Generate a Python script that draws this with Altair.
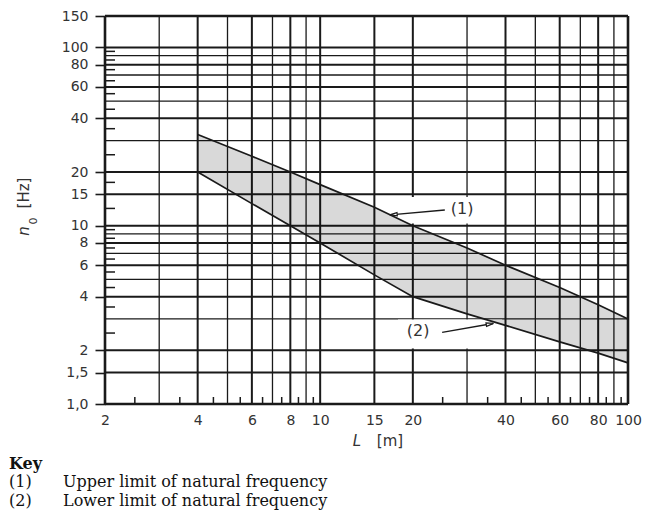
import altair as alt
import pandas as pd

# ---- data ----
L_pts = [4, 6, 8, 10, 15, 20, 30, 40, 60, 80, 100]
n_upper = [32.5, 24.5, 20, 17, 12.7, 10, 7.5, 6, 4.5, 3.6, 3.0]
n_lower = [20, 13.3, 10, 8, 5.3, 4, 3.2, 2.76, 2.23, 1.93, 1.70]

x_labels = [2, 4, 6, 8, 10, 15, 20, 40, 60, 80, 100]
y_labels = [1, 1.5, 2, 4, 6, 8, 10, 15, 20, 40, 60, 80, 100, 150]

vert_major = [4, 6, 8, 10, 15, 20, 40, 60, 80]
vert_minor = [3, 5, 7, 9, 30, 50, 70, 90]
horiz_major = [1.5, 2, 4, 6, 8, 10, 15, 20, 40, 60, 80, 100]
horiz_minor = [3, 5, 7, 9, 30, 50, 70, 90]
x_border = [2, 100]
y_border = [1, 150]

x_minor_ticks = [2.5, 3.5, 4.5, 5.5, 6.5, 7.5, 8.5, 9.5, 25, 35, 45, 55, 65, 75, 85, 95]
y_minor_ticks = [2.5, 3.5, 4.5, 5.5, 6.5, 7.5, 8.5, 9.5, 12.5, 17.5, 25, 35, 45, 55, 65, 75, 85, 95]

ann_labels = ["(1)", "(2)"]
ann_L = [28.9, 20.8]
ann_n = [12.4, 2.56]

arrow_id = ["a1", "a1", "a2", "a2"]
arrow_L = [25.4, 16.9, 24.9, 36.4]
arrow_n = [12.25, 11.5, 2.52, 2.83]
head_L = [17.3, 35.6]
head_n = [11.55, 2.81]
head_angle = [265, 80]

box_L1 = [17.5, 17.9]
box_L2 = [37.5, 39]
box_n1 = [10.3, 2.05]
box_n2 = [14.5, 2.98]

key_title = "Key"
key_nums = ["(1)", "(2)"]
key_texts = ["Upper limit of natural frequency", "Lower limit of natural frequency"]

# ---- scales & axes ----
xs = alt.Scale(type="log", domain=[2, 100], nice=False, zero=False)
ys = alt.Scale(type="log", domain=[1, 150], nice=False, zero=False)

LINE = "#1a1a1a"
TXT = "#333333"

x_axis = alt.Axis(values=x_labels, format="d", grid=False, ticks=False, domain=False,
                  labelFont="DejaVu Sans", labelFontSize=14, labelColor=TXT,
                  labelPadding=9, labelOverlap=False, labelFlush=False, labelBound=False, title=None)
y_axis = alt.Axis(values=y_labels,
                  labelExpr="datum.value == 1 ? '1,0' : datum.value == 1.5 ? '1,5' : format(datum.value, 'd')",
                  grid=False, ticks=True, tickSize=10, tickWidth=1.6, tickColor=LINE, domain=False,
                  labelFont="DejaVu Sans", labelFontSize=14, labelColor=TXT,
                  labelPadding=7, labelOverlap=False, labelFlush=False, labelBound=False, title=None)


def X(f):
    return alt.X(f, scale=xs, axis=x_axis, title=None)


def Y(f):
    return alt.Y(f, scale=ys, axis=y_axis, title=None)


curves = pd.DataFrame({"L": L_pts, "up": n_upper, "lo": n_lower})

vmaj = alt.Chart(pd.DataFrame({"v": vert_major})).mark_rule(color=LINE, strokeWidth=2).encode(x=X("v:Q"))
vmin = alt.Chart(pd.DataFrame({"v": vert_minor})).mark_rule(color=LINE, strokeWidth=1.3).encode(x=X("v:Q"))
hmaj = alt.Chart(pd.DataFrame({"h": horiz_major})).mark_rule(color=LINE, strokeWidth=2).encode(y=Y("h:Q"))
hmin = alt.Chart(pd.DataFrame({"h": horiz_minor})).mark_rule(color=LINE, strokeWidth=1.3).encode(y=Y("h:Q"))

boxes = alt.Chart(pd.DataFrame({"x1": box_L1, "x2": box_L2, "y1": box_n1, "y2": box_n2})).mark_rect(
    color="white").encode(x=X("x1:Q"), x2="x2:Q", y=Y("y1:Q"), y2="y2:Q")

area = alt.Chart(curves).mark_area(fill="black", fillOpacity=0.15).encode(
    x=X("L:Q"), y=Y("lo:Q"), y2="up:Q")

up_line = alt.Chart(curves).mark_line(color=LINE, strokeWidth=1.7).encode(x=X("L:Q"), y=Y("up:Q"))
lo_line = alt.Chart(curves).mark_line(color=LINE, strokeWidth=1.7).encode(x=X("L:Q"), y=Y("lo:Q"))

xb = alt.Chart(pd.DataFrame({"v": x_border})).mark_rule(color=LINE, strokeWidth=2.6).encode(x=X("v:Q"))
yb = alt.Chart(pd.DataFrame({"h": y_border})).mark_rule(color=LINE, strokeWidth=2.6).encode(y=Y("h:Q"))

PH = 388  # plot height in px

xt = alt.Chart(pd.DataFrame({"v": x_minor_ticks})).mark_rule(color=LINE, strokeWidth=1.5).encode(
    x=X("v:Q"), y=alt.value(PH), y2=alt.value(PH - 7))
yt = alt.Chart(pd.DataFrame({"h": y_minor_ticks})).mark_rule(color=LINE, strokeWidth=1.5).encode(
    y=Y("h:Q"), x=alt.value(0), x2=alt.value(10))

ann = alt.Chart(pd.DataFrame({"L": ann_L, "n": ann_n, "t": ann_labels})).mark_text(
    font="DejaVu Sans", fontSize=16, color=TXT).encode(x=X("L:Q"), y=Y("n:Q"), text="t:N")

arrows = alt.Chart(pd.DataFrame({"id": arrow_id, "L": arrow_L, "n": arrow_n})).mark_line(
    color=LINE, strokeWidth=1.4).encode(x=X("L:Q"), y=Y("n:Q"), detail="id:N")

heads = alt.Chart(pd.DataFrame({"L": head_L, "n": head_n, "a": head_angle})).mark_point(
    shape="M0,-1L0.45,1L-0.45,1Z", filled=True, fill="white", stroke=LINE, strokeWidth=1.2,
    size=55, opacity=1).encode(
    x=X("L:Q"), y=Y("n:Q"), angle=alt.Angle("a:Q", scale=None))


def ptext(t, x, y, **kw):
    return alt.Chart(pd.DataFrame({"t": [t]})).mark_text(**kw).encode(
        x=alt.value(x), y=alt.value(y), text="t:N")


yt1 = ptext("n", -81, 215, angle=270, font="DejaVu Sans", fontSize=15, fontStyle="italic", color=TXT)
yt2 = ptext("0", -71, 205, angle=270, font="DejaVu Sans", fontSize=11, color=TXT)
yt3 = ptext("[Hz]", -81, 177, angle=270, font="DejaVu Sans", fontSize=15, color=TXT)
xt1 = ptext("L", 252, 425, font="DejaVu Sans", fontSize=15, fontStyle="italic", color=TXT)
xt2 = ptext("[m]", 285, 425, font="DejaVu Sans", fontSize=15, color=TXT)

KF = dict(align="left", font="DejaVu Serif", fontSize=16, color="#111")
k0 = ptext(key_title, -96, 448, fontWeight="bold", **KF)
k1 = ptext(key_nums[0], -96, 466, **KF)
k2 = ptext(key_texts[0], -42, 466, **KF)
k3 = ptext(key_nums[1], -96, 485, **KF)
k4 = ptext(key_texts[1], -42, 485, **KF)

chart = alt.layer(
    vmaj, vmin, hmaj, hmin, boxes, area, up_line, lo_line, xb, yb, xt, yt,
    ann, arrows, heads, yt1, yt2, yt3, xt1, xt2, k0, k1, k2, k3, k4
).properties(
    width=523, height=PH,
    autosize=alt.AutoSizeParams(type="none"),
    padding={"left": 97, "top": 8, "right": 24, "bottom": 109},
    background="white",
).configure_view(stroke=None)

chart.save("out.html", embed_options={"renderer": "svg", "actions": False})
